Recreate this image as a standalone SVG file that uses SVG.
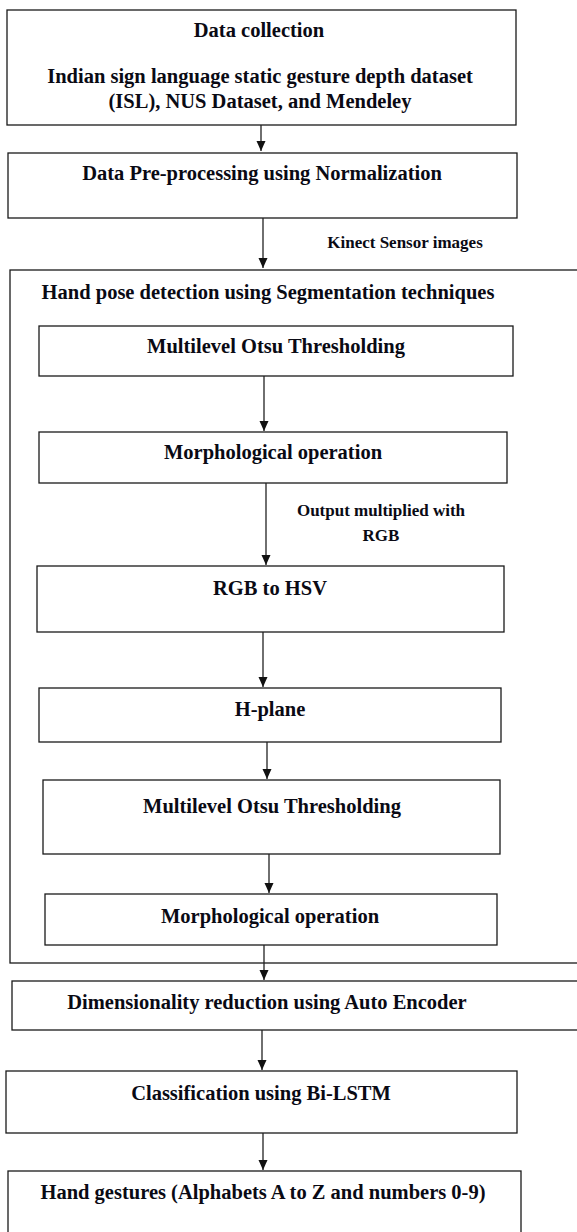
<svg xmlns="http://www.w3.org/2000/svg" width="577" height="1232" viewBox="0 0 577 1232">
<defs>
<style>
.box{fill:#fff;stroke:#1a1a1a;stroke-width:1.3}
.t{font-family:"Liberation Serif","Times New Roman",serif;font-weight:bold;font-size:20.5px;fill:#0a0a14;text-anchor:middle}
.s{font-family:"Liberation Serif","Times New Roman",serif;font-weight:bold;font-size:17px;fill:#0a0a14;text-anchor:middle}
.c{stroke:#222;stroke-width:1.3;fill:none;marker-end:url(#ah)}
</style>
<marker id="ah" markerUnits="userSpaceOnUse" markerWidth="10" markerHeight="10" viewBox="0 0 10 10" refX="10" refY="5" orient="auto">
<path d="M0,0.5 L10,5 L0,9.5 Z" fill="#111"/>
</marker>
</defs>
<rect width="577" height="1232" fill="#fff"/>
<g id="outer">
<rect class="box" x="10" y="270" width="580" height="693"/>
<text class="t" x="268" y="299">Hand pose detection using Segmentation techniques</text>
</g>
<g id="n1">
<rect class="box" x="7" y="10" width="509" height="115"/>
<text class="t" x="259" y="37">Data collection</text>
<text class="t" x="260" y="83">Indian sign language static gesture depth dataset</text>
<text class="t" x="260" y="108">(ISL), NUS Dataset, and Mendeley</text>
</g>
<g id="n2">
<rect class="box" x="8" y="153" width="509" height="65"/>
<text class="t" x="262" y="180">Data Pre-processing using Normalization</text>
</g>
<g id="n3">
<rect class="box" x="39" y="326" width="474" height="50"/>
<text class="t" x="276" y="353">Multilevel Otsu Thresholding</text>
</g>
<g id="n4">
<rect class="box" x="39" y="432" width="468" height="51"/>
<text class="t" x="273" y="459">Morphological operation</text>
</g>
<g id="n5">
<rect class="box" x="37" y="566" width="467" height="66"/>
<text class="t" x="270" y="595">RGB to HSV</text>
</g>
<g id="n6">
<rect class="box" x="39" y="688" width="462" height="54"/>
<text class="t" x="270" y="716">H-plane</text>
</g>
<g id="n7">
<rect class="box" x="43" y="780" width="457" height="74"/>
<text class="t" x="272" y="813">Multilevel Otsu Thresholding</text>
</g>
<g id="n8">
<rect class="box" x="45" y="894" width="452" height="51"/>
<text class="t" x="270" y="923">Morphological operation</text>
</g>
<g id="n9">
<rect class="box" x="12" y="981" width="570" height="49"/>
<text class="t" x="267" y="1009">Dimensionality reduction using Auto Encoder</text>
</g>
<g id="n10">
<rect class="box" x="6" y="1071" width="511" height="62"/>
<text class="t" x="261" y="1100">Classification using Bi-LSTM</text>
</g>
<g id="n11">
<rect class="box" x="8" y="1171" width="513" height="80"/>
<text class="t" x="263" y="1199">Hand gestures (Alphabets A to Z and numbers 0-9)</text>
</g>
<g id="connectors">
<line class="c" x1="261" y1="125" x2="261" y2="151"/>
<line class="c" x1="263" y1="218" x2="263" y2="268"/>
<text class="s" x="405" y="248">Kinect Sensor images</text>
<line class="c" x1="264" y1="376" x2="264" y2="431"/>
<line class="c" x1="266" y1="483" x2="266" y2="565"/>
<text class="s" x="381" y="516">Output multiplied with</text>
<text class="s" x="381" y="541">RGB</text>
<line class="c" x1="263" y1="632" x2="263" y2="687"/>
<line class="c" x1="267" y1="742" x2="267" y2="779"/>
<line class="c" x1="269" y1="854" x2="269" y2="893"/>
<line class="c" x1="264" y1="945" x2="264" y2="980"/>
<line class="c" x1="262" y1="1030" x2="262" y2="1070"/>
<line class="c" x1="263" y1="1133" x2="263" y2="1170"/>
</g>
</svg>
